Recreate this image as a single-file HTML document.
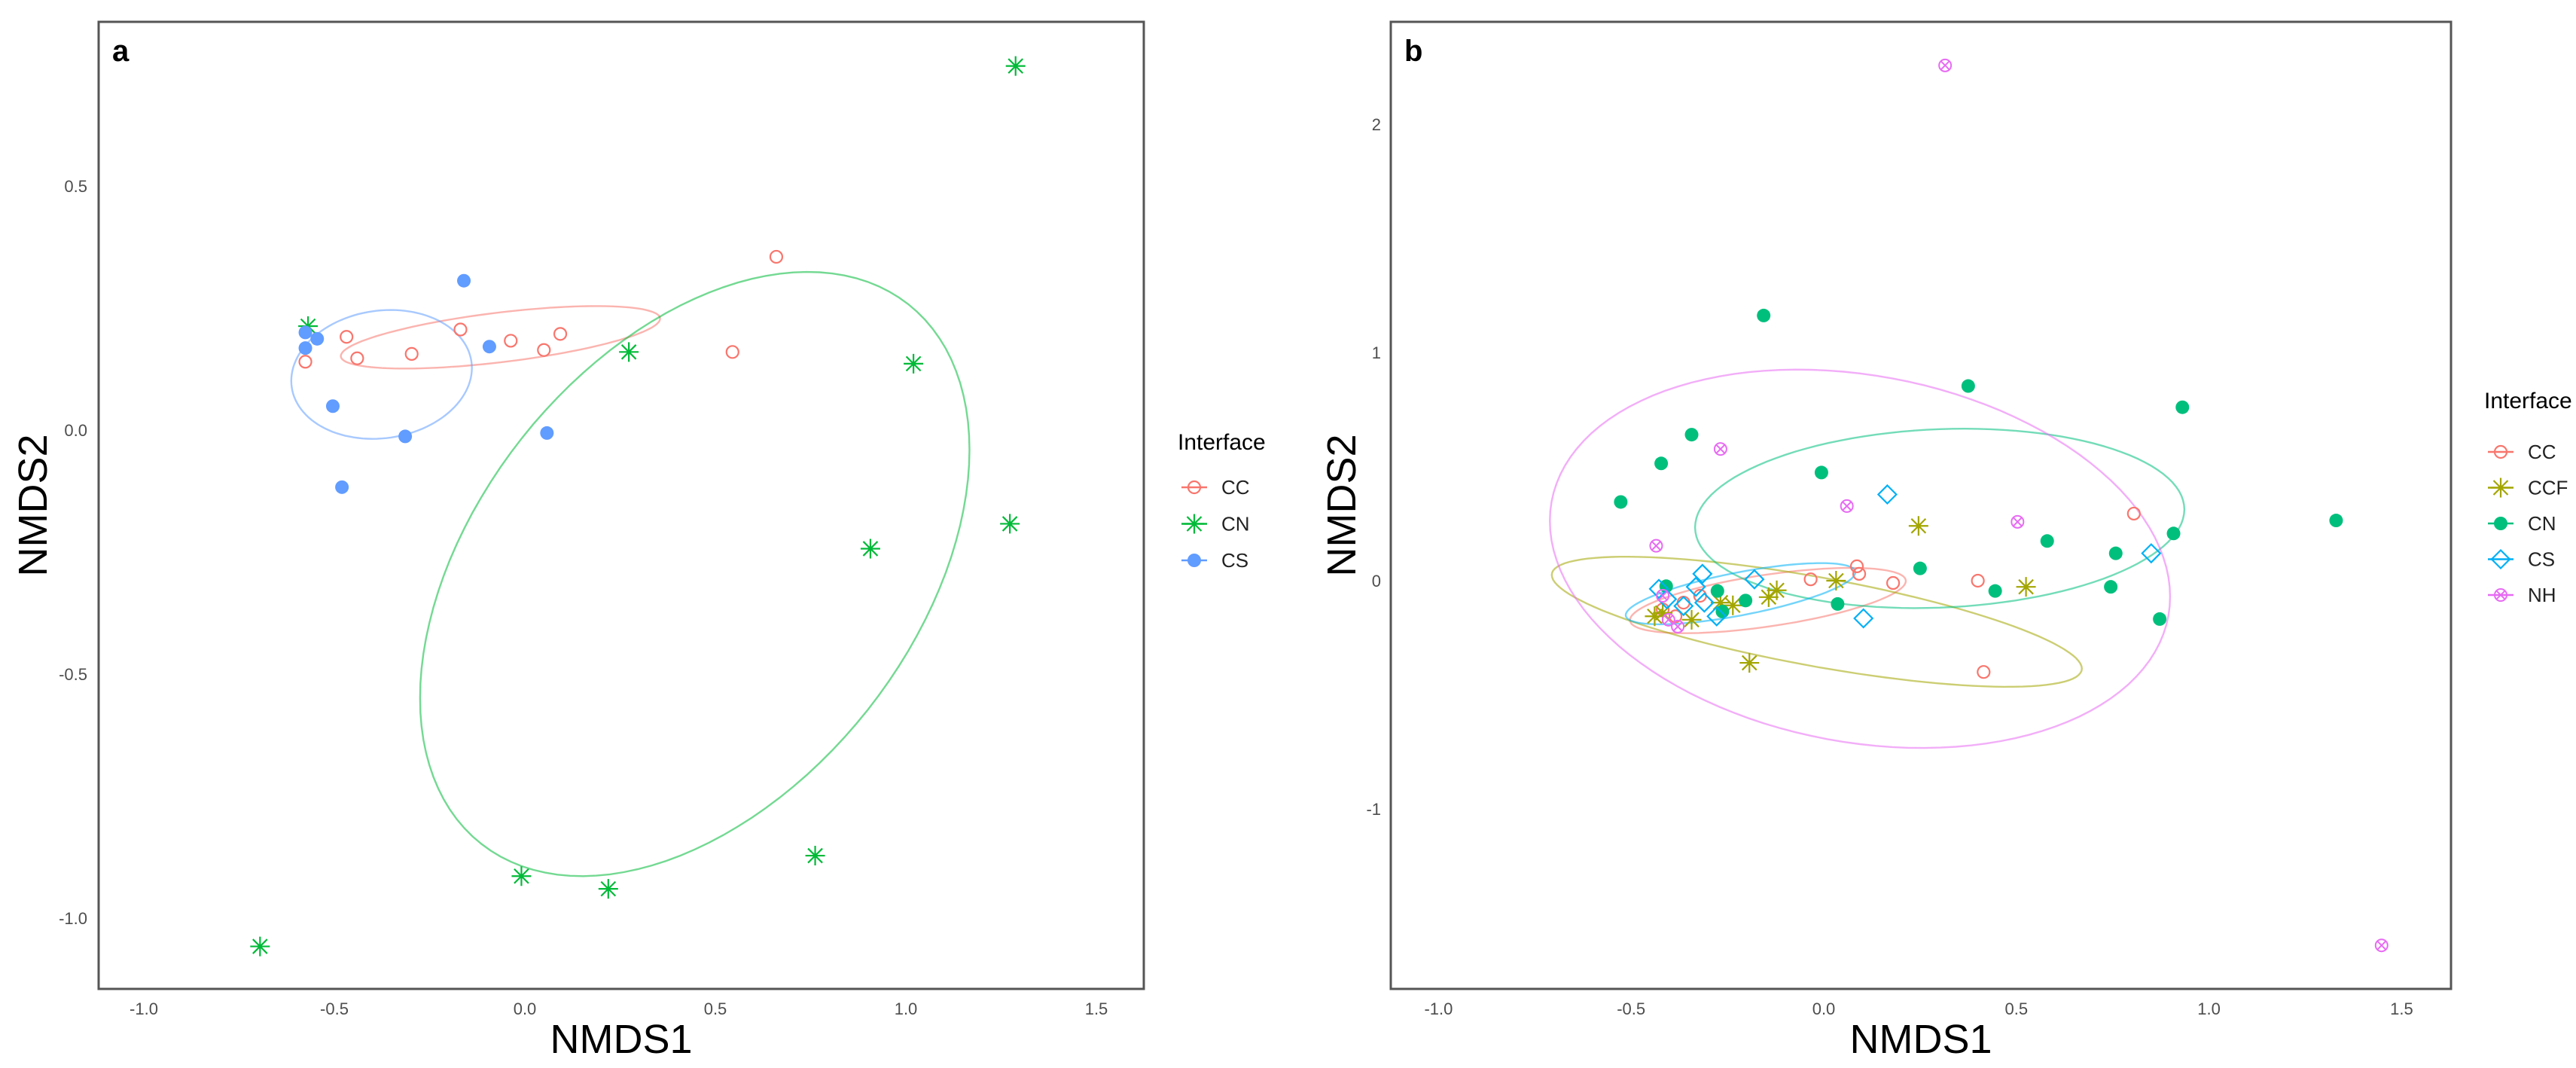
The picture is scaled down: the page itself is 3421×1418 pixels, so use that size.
<!DOCTYPE html>
<html><head><meta charset="utf-8"><style>
html,body{margin:0;padding:0;background:#fff;}
svg{display:block;}
text{font-family:"Liberation Sans",sans-serif;}
</style></head><body>
<svg id="chart" width="3421" height="1418" viewBox="0 0 3421 1418" xmlns="http://www.w3.org/2000/svg">
<rect x="0" y="0" width="3421" height="1418" fill="#fff"/>
<g id="pa"></g>
<g id="pb"></g>
</svg>
<script>
// ---------- Panel a data ----------
const aXTicks = [-1.0, -0.5, 0.0, 0.5, 1.0, 1.5];
const aXTickLabels = ["-1.0", "-0.5", "0.0", "0.5", "1.0", "1.5"];
const aYTicks = [0.5, 0.0, -0.5, -1.0];
const aYTickLabels = ["0.5", "0.0", "-0.5", "-1.0"];
const aGroups = ["CC", "CN", "CS"];
const aCC_x = [0.66, 0.545, 0.093, 0.05, -0.037, -0.169, -0.297, -0.44, -0.468, -0.576];
const aCC_y = [0.355, 0.16, 0.197, 0.164, 0.183, 0.206, 0.156, 0.147, 0.191, 0.14];
const aCN_x = [1.288, 0.273, 1.02, 1.273, 0.907, 0.762, 0.219, -0.009, -0.695, -0.569];
const aCN_y = [0.746, 0.16, 0.136, -0.192, -0.243, -0.872, -0.94, -0.914, -1.058, 0.213];
const aCS_x = [-0.16, -0.093, 0.058, -0.314, -0.504, -0.48, -0.545, -0.576, -0.576];
const aCS_y = [0.306, 0.171, -0.006, -0.013, 0.049, -0.117, 0.187, 0.2, 0.168];
// ellipses: [cx, cy, sx, sy, r]
const aEllCC = [-0.064, 0.19, 0.419, 0.064, 0.6];
const aEllCN = [0.446, -0.295, 0.721, 0.619, 0.411];
const aEllCS = [-0.376, 0.114, 0.237, 0.132, 0.1];

// ---------- Panel b data ----------
const bXTicks = [-1.0, -0.5, 0.0, 0.5, 1.0, 1.5];
const bXTickLabels = ["-1.0", "-0.5", "0.0", "0.5", "1.0", "1.5"];
const bYTicks = [2, 1, 0, -1];
const bYTickLabels = ["2", "1", "0", "-1"];
const bGroups = ["CC", "CCF", "CN", "CS", "NH"];
const bCC_x = [0.805, 0.40, 0.18, 0.086, 0.092, -0.034, 0.415, -0.418, -0.385, -0.364, -0.321];
const bCC_y = [0.294, 0.0, -0.01, 0.063, 0.03, 0.006, -0.40, -0.126, -0.156, -0.096, -0.066];
const bCCF_x = [0.246, 0.525, 0.032, -0.122, -0.143, -0.193, -0.236, -0.418, -0.343, -0.268, -0.439];
const bCCF_y = [0.24, -0.027, 0.0, -0.042, -0.072, -0.36, -0.108, -0.141, -0.171, -0.096, -0.156];
const bCN_x = [-0.156, 0.375, 0.931, 1.33, 0.908, 0.758, 0.58, 0.745, 0.872, 0.445, 0.25, 0.036, -0.006, -0.343, -0.422, -0.527, -0.409, -0.276, -0.203, -0.263];
const bCN_y = [1.162, 0.853, 0.76, 0.264, 0.207, 0.12, 0.174, -0.027, -0.168, -0.045, 0.054, -0.102, 0.474, 0.64, 0.514, 0.345, -0.024, -0.045, -0.087, -0.135];
const bCS_x = [0.165, 0.85, 0.103, -0.18, -0.315, -0.428, -0.332, -0.364, -0.278, -0.407, -0.31];
const bCS_y = [0.378, 0.12, -0.165, 0.006, 0.03, -0.036, -0.027, -0.111, -0.156, -0.081, -0.096];
const bNH_x = [0.315, 1.448, -0.268, 0.06, 0.503, -0.435, -0.379, -0.418, -0.403];
const bNH_y = [2.258, -1.598, 0.577, 0.327, 0.258, 0.153, -0.201, -0.066, -0.171];
const bEllCC = [-0.145, -0.087, 0.358, 0.143, 0.6];
const bEllCCF = [-0.018, -0.18, 0.688, 0.285, -0.72];
const bEllCN = [0.301, 0.273, 0.635, 0.393, 0.1];
const bEllCS = [-0.216, -0.057, 0.298, 0.134, 0.7];
const bEllNH = [0.094, 0.096, 0.805, 0.829, -0.2];

const NS = "http://www.w3.org/2000/svg";
function mk(parent, tag, attrs) {
  const e = document.createElementNS(NS, tag);
  for (const k in attrs) e.setAttribute(k, attrs[k]);
  parent.appendChild(e);
  return e;
}
function txt(parent, x, y, s, attrs) {
  const t = mk(parent, "text", Object.assign({x: x, y: y}, attrs));
  t.textContent = s;
  return t;
}

function drawMark(g, shape, px, py, col) {
  let m;
  if (shape === "circle") {
    m = mk(g, "circle", {cx: px, cy: py, r: 8, fill: "none", stroke: col, "stroke-width": 2.2});
  } else if (shape === "dot") {
    m = mk(g, "circle", {cx: px, cy: py, r: 9, fill: col, stroke: "none"});
  } else if (shape === "star") {
    const s = 13, d = 9.5;
    m = mk(g, "path", {d: `M${px},${py-s}V${py+s}M${px-s},${py}H${px+s}M${px-d},${py-d}L${px+d},${py+d}M${px-d},${py+d}L${px+d},${py-d}`, stroke: col, "stroke-width": 2.2, fill: "none"});
  } else if (shape === "diamond") {
    const s = 12;
    m = mk(g, "path", {d: `M${px},${py-s}L${px+s},${py}L${px},${py+s}L${px-s},${py}Z`, stroke: col, "stroke-width": 2.2, fill: "none"});
  } else if (shape === "xcircle") {
    const s = 8, d = 5.6;
    m = mk(g, "path", {d: `M${px+s},${py}A${s},${s} 0 1,1 ${px-s},${py}A${s},${s} 0 1,1 ${px+s},${py}M${px-d},${py-d}L${px+d},${py+d}M${px-d},${py+d}L${px+d},${py-d}`, stroke: col, "stroke-width": 2, fill: "none"});
  }
  return m;
}

function ellipsePath(ell, sx, sy) {
  const [cx, cy, a, b, r] = ell;
  const q = Math.sqrt(1 - r * r);
  let d = "";
  for (let i = 0; i <= 120; i++) {
    const t = i / 120 * 2 * Math.PI;
    const x = cx + a * Math.cos(t);
    const y = cy + b * (r * Math.cos(t) + q * Math.sin(t));
    d += (i ? "L" : "M") + sx(x).toFixed(1) + "," + sy(y).toFixed(1);
  }
  return d + "Z";
}

function drawPanel(cfg) {
  const g = document.getElementById(cfg.id);
  const sx = v => cfg.x0 + v * cfg.kx;
  const sy = v => cfg.y0 - v * cfg.ky;
  const fr = mk(g, "rect", {x: cfg.L, y: cfg.T, width: cfg.R - cfg.L, height: cfg.B - cfg.T, fill: "#fff", stroke: "#555", "stroke-width": 3});
  
  
  const pl = txt(g, cfg.L + 18, cfg.T + 52, cfg.letter, {"font-family": "Liberation Serif, serif", "font-weight": "bold", "font-size": 40, fill: "#000"});
  
  
  cfg.xt.forEach((v, i) => {
    const t = txt(g, sx(v), 1347, cfg.xtl[i], {"text-anchor": "middle", "font-size": 22, fill: "#4d4d4d"});
    
    
  });
  cfg.yt.forEach((v, i) => {
    const t = txt(g, cfg.ylx, sy(v) + 8, cfg.ytl[i], {"text-anchor": "end", "font-size": 22, fill: "#4d4d4d"});
    
    
  });
  const xt = txt(g, (cfg.L + cfg.R) / 2, 1398, "NMDS1", {"text-anchor": "middle", "font-size": 54, fill: "#000"});
  
  
  const yt = txt(g, 0, 0, "NMDS2", {"text-anchor": "middle", "font-size": 54, fill: "#000", transform: `translate(${cfg.yTitleX},${(cfg.T + cfg.B) / 2}) rotate(-90)`});
  
  
  cfg.series.forEach(s => {
    const p = mk(g, "path", {d: ellipsePath(s.ell, sx, sy), fill: "none", stroke: s.col, "stroke-opacity": 0.55, "stroke-width": 2.4});
    
    
  });
  cfg.series.forEach(s => {
    s.xs.forEach((v, i) => {
      const m = drawMark(g, s.shape, sx(v), sy(s.ys[i]), s.col);
      
      
    });
  });
  const lt = txt(g, cfg.legX - 22, cfg.legTitleY, "Interface", {"font-size": 30, fill: "#000"});
  
  
  cfg.series.forEach((s, i) => {
    const yy = cfg.legY0 + i * cfg.legDy;
    const ln = mk(g, "line", {x1: cfg.legX - 17, x2: cfg.legX + 17, y1: yy, y2: yy, stroke: s.col, "stroke-width": 2.4});
    
    
    const m = drawMark(g, s.shape, cfg.legX, yy, s.col);
    
    
    const lb = txt(g, cfg.legX + 36, yy + 9, s.name, {"font-size": 26, fill: "#222"});
    
    
  });
}

drawPanel({
  id: "pa", letter: "a", L: 131, R: 1519, T: 29, B: 1313,
  x0: 697, kx: 506, y0: 571, ky: 648, ylx: 116, yTitleX: 62,
  xt: aXTicks, xtl: aXTickLabels, yt: aYTicks, ytl: aYTickLabels,
  legX: 1586, legTitleY: 597, legY0: 647, legDy: 48.5,
  series: [
    {name: "CC", xs: aCC_x, ys: aCC_y, shape: "circle", col: "#F8766D", ell: aEllCC},
    {name: "CN", xs: aCN_x, ys: aCN_y, shape: "star", col: "#00BA38", ell: aEllCN},
    {name: "CS", xs: aCS_x, ys: aCS_y, shape: "dot", col: "#619CFF", ell: aEllCS}
  ]
});
drawPanel({
  id: "pb", letter: "b", L: 1847, R: 3255, T: 29, B: 1313,
  x0: 2422, kx: 511.6, y0: 771, ky: 303, ylx: 1834, yTitleX: 1800,
  xt: bXTicks, xtl: bXTickLabels, yt: bYTicks, ytl: bYTickLabels,
  legX: 3321, legTitleY: 542, legY0: 600, legDy: 47.5,
  series: [
    {name: "CC", xs: bCC_x, ys: bCC_y, shape: "circle", col: "#F8766D", ell: bEllCC},
    {name: "CCF", xs: bCCF_x, ys: bCCF_y, shape: "star", col: "#A3A500", ell: bEllCCF},
    {name: "CN", xs: bCN_x, ys: bCN_y, shape: "dot", col: "#00BF7D", ell: bEllCN},
    {name: "CS", xs: bCS_x, ys: bCS_y, shape: "diamond", col: "#00B0F6", ell: bEllCS},
    {name: "NH", xs: bNH_x, ys: bNH_y, shape: "xcircle", col: "#E76BF3", ell: bEllNH}
  ]
});
</script>
</body></html>
